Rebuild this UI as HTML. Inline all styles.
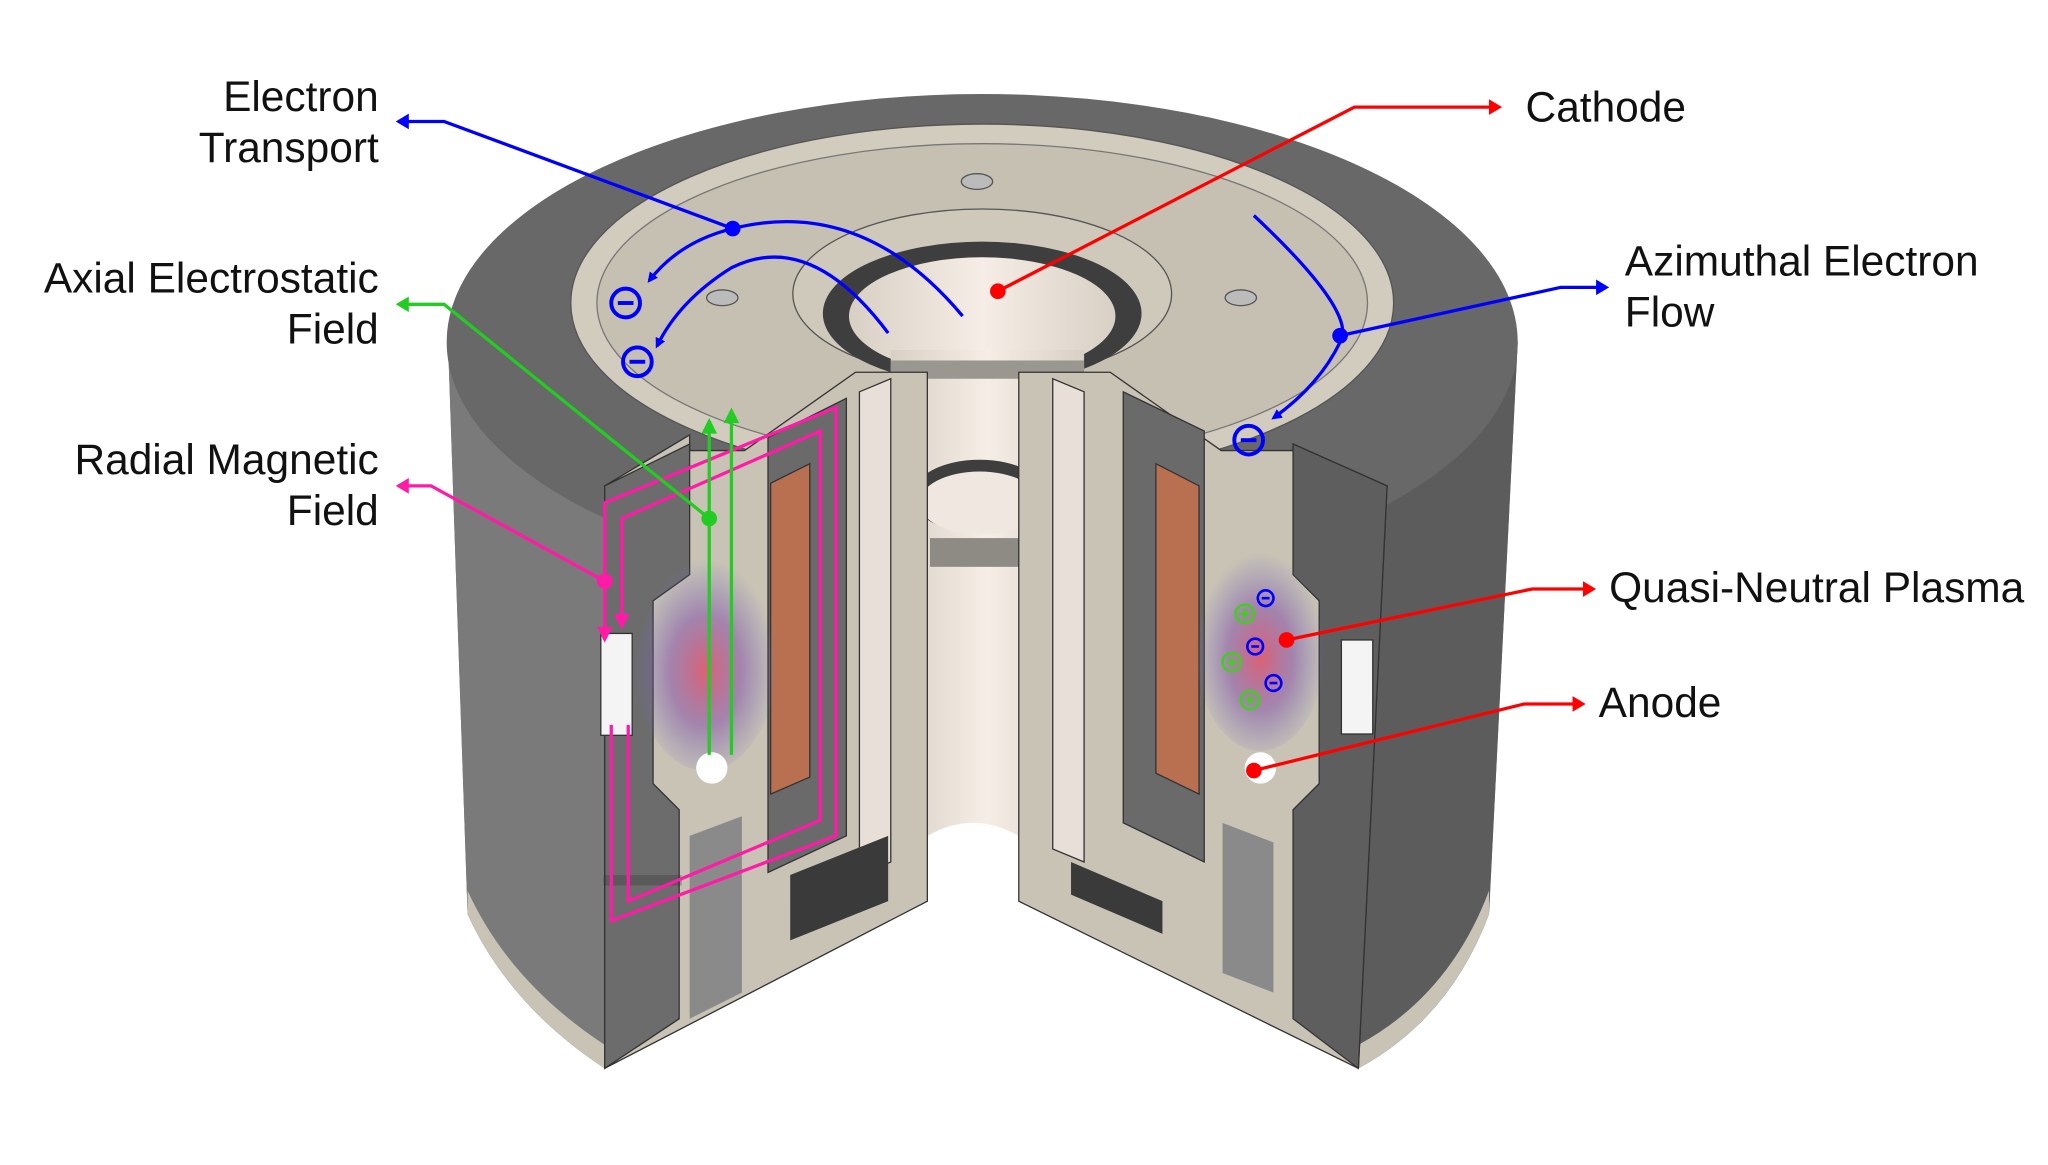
<!DOCTYPE html>
<html><head><style>
html,body{margin:0;padding:0;background:#fff;}
svg{display:block;}
text{font-family:"Liberation Sans",sans-serif;font-size:32.5px;fill:#111;}
</style></head><body>
<svg width="2048" height="1165" viewBox="0 0 1568 892" preserveAspectRatio="none" xmlns="http://www.w3.org/2000/svg">
<defs>
<marker id="ab" markerWidth="8" markerHeight="8" refX="6" refY="4" orient="auto" markerUnits="userSpaceOnUse"><path d="M0,0 L8,4 L0,8z" fill="#0000ff"/></marker>
<radialGradient id="pl" cx="0.5" cy="0.55" r="0.5"><stop offset="0" stop-color="#e0506a" stop-opacity="0.85"/><stop offset="0.5" stop-color="#8a5aa8" stop-opacity="0.6"/><stop offset="1" stop-color="#7070c0" stop-opacity="0"/></radialGradient>
<linearGradient id="bore" x1="0" x2="1"><stop offset="0" stop-color="#d8d0c4"/><stop offset="0.5" stop-color="#f6eee6"/><stop offset="1" stop-color="#d8d0c4"/></linearGradient>
</defs>
<path d="M343,262 A410,190 0 0 1 1162,262 L1140,700 Q1110,780 1040,818 L1040,760 L780,690 L780,640 Q745,620 710,640 L710,690 L463,818 Q390,770 358,700 Z" fill="#6e6e6e"/>
<path d="M343,262 L358,700 Q390,770 463,818 L463,372 Z" fill="#7a7a7a"/>
<path d="M1162,262 L1140,700 Q1110,780 1040,818 L1062,372 Z" fill="#5c5c5c"/>
<path d="M358,700 Q390,770 463,818 L463,800 Q390,752 358,682Z" fill="#c9c3b5"/>
<path d="M1140,700 Q1110,780 1040,818 L1040,800 Q1110,762 1140,682Z" fill="#c9c3b5"/>
<ellipse cx="752" cy="262" rx="410" ry="190" fill="#686868"/>
<ellipse cx="752" cy="232" rx="315" ry="137" fill="#d2ccbe" stroke="#555" stroke-width="1"/>
<ellipse cx="752" cy="232" rx="295" ry="122" fill="#c6c0b2" stroke="#777" stroke-width="1"/>
<ellipse cx="752" cy="225" rx="145" ry="65" fill="#cfc9bb" stroke="#555"/>
<ellipse cx="752" cy="240" rx="122" ry="55" fill="#3e3e3e"/>
<ellipse cx="752" cy="242" rx="102" ry="45" fill="url(#bore)"/>
<ellipse cx="748" cy="139" rx="12" ry="6" fill="#bbb" stroke="#555"/>
<ellipse cx="553" cy="228" rx="12" ry="6" fill="#bbb" stroke="#555"/>
<ellipse cx="950" cy="228" rx="12" ry="6" fill="#bbb" stroke="#555"/>
<rect x="682" y="268" width="148" height="380" fill="url(#bore)"/>
<rect x="682" y="276" width="148" height="14" fill="#9a9690"/>
<ellipse cx="750" cy="380" rx="52" ry="28" fill="#3e3e3e"/>
<ellipse cx="750" cy="385" rx="46" ry="24" fill="#f0e8e0"/>
<rect x="712" y="412" width="76" height="22" fill="#8e8a84"/>
<path d="M710,640 Q745,620 780,640 L780,690 L710,690Z" fill="#fff"/>
<path d="M463,372 L528,333 L528,345 L570,345 L655,285 L710,285 L710,690 L463,818 Z" fill="#c9c3b5" stroke="#333" stroke-width="1"/>
<path d="M463,372 L528,340 L528,440 L500,460 L500,600 L520,620 L520,780 L463,818 Z" fill="#6c6c6c" stroke="#333" stroke-width="1"/>
<path d="M588,335 L648,305 L648,640 L588,668 Z" fill="#6a6a6a" stroke="#333"/>
<path d="M590,370 L620,355 L620,595 L590,608 Z" fill="#b87050" stroke="#333"/>
<path d="M658,300 L682,290 L682,660 L658,670Z" fill="#e8e0d8" stroke="#333"/>
<path d="M605,670 L680,640 L680,690 L605,720Z" fill="#3a3a3a"/>
<path d="M528,640 L568,625 L568,760 L528,780Z" fill="#8a8a8a"/>
<rect x="460" y="485" width="24" height="78" fill="#f4f4f4" stroke="#333"/>
<rect x="462" y="670" width="60" height="8" fill="#333" opacity="0.3"/>
<path d="M1062,372 L990,340 L990,345 L935,345 L850,285 L830,285 L780,285 L780,690 L1040,818 Z" fill="#c9c3b5" stroke="#333" stroke-width="1"/>
<path d="M1062,372 L990,340 L990,440 L1010,460 L1010,600 L990,620 L990,780 L1040,818 Z" fill="#5e5e5e" stroke="#333"/>
<path d="M860,300 L922,330 L922,660 L860,630Z" fill="#6a6a6a" stroke="#333"/>
<path d="M885,355 L918,372 L918,608 L885,592Z" fill="#b87050" stroke="#333"/>
<path d="M806,290 L830,300 L830,660 L806,650Z" fill="#e8e0d8" stroke="#333"/>
<path d="M820,660 L890,690 L890,715 L820,685Z" fill="#3a3a3a"/>
<path d="M936,630 L975,645 L975,760 L936,745Z" fill="#8a8a8a"/>
<rect x="1027" y="490" width="24" height="72" fill="#f4f4f4" stroke="#333"/>
<ellipse cx="540" cy="505" rx="55" ry="85" fill="url(#pl)"/>
<ellipse cx="965" cy="495" rx="50" ry="80" fill="url(#pl)"/>
<circle cx="545" cy="588" r="12" fill="#fff"/>
<circle cx="965" cy="588" r="12" fill="#fff"/>
<g fill="none" stroke="#ff1aa8" stroke-width="2.5">
<path d="M463,490 L463,385 L640,312 L640,640 L468,705 L468,555"/>
<path d="M476,480 L476,397 L628,330 L628,628 L481,690 L481,555"/>
<path d="M305,372 L330,372 L463,445"/>
</g>
<path d="M457,480 L469,480 L463,492Z M470,470 L482,470 L476,482Z" fill="#ff1aa8"/>
<path d="M313,366 L303,372 L313,378Z" fill="#ff1aa8"/>
<circle cx="463" cy="445" r="6" fill="#ff1aa8"/>
<g stroke="#22cc22" stroke-width="2.5" fill="none">
<path d="M543,578 L543,330 M560,578 L560,322"/>
<path d="M305,233 L340,233 L543,397"/>
</g>
<path d="M537,332 L543,320 L549,332Z M554,324 L560,312 L566,324Z M313,227 L303,233 L313,239Z" fill="#22cc22"/>
<circle cx="543" cy="397" r="6" fill="#22cc22"/>
<g stroke="#0000ff" stroke-width="2.5" fill="none">
<path d="M305,93 L340,93 L561,175"/>
<path d="M737,242 Q660,150 561,175 Q520,185 497,215" marker-end="url(#ab)"/>
<path d="M680,255 Q620,175 560,205 Q520,230 503,265" marker-end="url(#ab)"/>
<path d="M960,165 Q1040,240 1026,262 Q1010,295 975,320" marker-end="url(#ab)"/>
<path d="M1026,257 L1195,220 L1225,220"/>
</g>
<path d="M313,87 L303,93 L313,99Z" fill="#0000ff"/>
<path d="M1222,214 L1232,220 L1222,226Z" fill="#0000ff"/>
<circle cx="561" cy="175" r="6" fill="#0000ff"/>
<circle cx="1026" cy="257" r="6" fill="#0000ff"/>
<g stroke="#0000ff" stroke-width="3" fill="none">
<circle cx="479" cy="232" r="11"/><path d="M473,232h12"/>
<circle cx="488" cy="277" r="11"/><path d="M482,277h12"/>
<circle cx="956" cy="337" r="11"/><path d="M950,337h12"/>
</g>
<g stroke="#0000ff" stroke-width="2" fill="none">
<circle cx="969" cy="458" r="6"/><circle cx="961" cy="495" r="6"/><circle cx="975" cy="523" r="6"/>
<path d="M966,458h6 M958,495h6 M972,523h6"/>
</g>
<g stroke="#44cc22" stroke-width="2" fill="none">
<circle cx="953" cy="470" r="7"/><circle cx="943" cy="507" r="7"/><circle cx="957" cy="536" r="7"/>
<path d="M949,470h8 M953,466v8 M939,507h8 M943,503v8 M953,536h8 M957,532v8"/>
</g>
<g stroke="#ff0000" stroke-width="2.5" fill="none">
<path d="M764,223 L1037,82 L1142,82"/>
<path d="M985,490 L1173,451 L1214,451"/>
<path d="M960,590 L1167,539 L1206,539"/>
</g>
<path d="M1140,76 L1150,82 L1140,88Z M1212,445 L1222,451 L1212,457Z M1204,533 L1214,539 L1204,545Z" fill="#ff0000"/>
<circle cx="764" cy="223" r="6" fill="#ff0000"/>
<circle cx="985" cy="490" r="6" fill="#ff0000"/>
<circle cx="960" cy="590" r="6" fill="#ff0000"/>
<g text-anchor="end">
<text x="290" y="85">Electron</text><text x="290" y="124">Transport</text>
<text x="290" y="224">Axial Electrostatic</text><text x="290" y="263">Field</text>
<text x="290" y="363">Radial Magnetic</text><text x="290" y="402">Field</text>
</g>
<text x="1168" y="93">Cathode</text>
<text x="1244" y="211">Azimuthal Electron</text><text x="1244" y="250">Flow</text>
<text x="1232" y="461">Quasi-Neutral Plasma</text>
<text x="1224" y="549">Anode</text>
</svg>
</body></html>
